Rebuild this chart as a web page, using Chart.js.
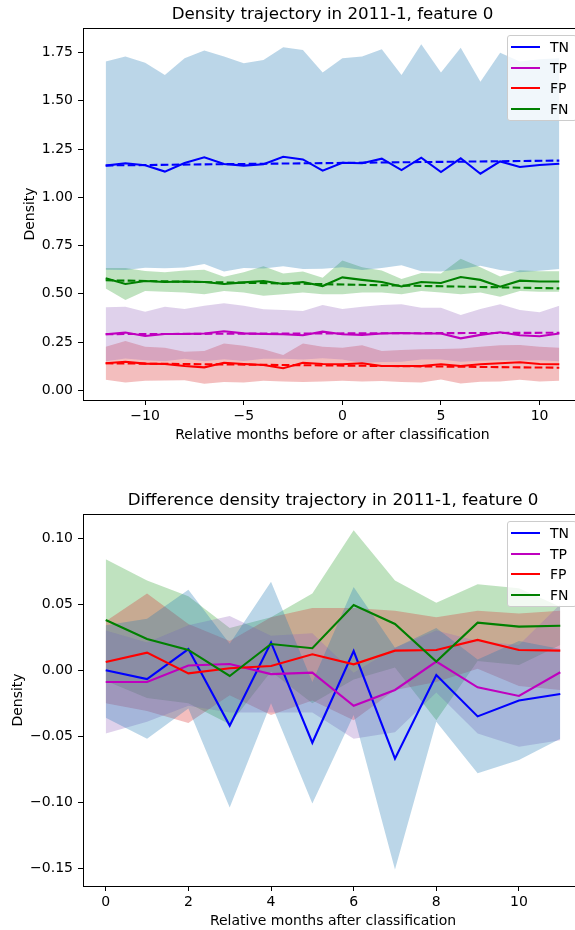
<!DOCTYPE html>
<html><head><meta charset="utf-8">
<script src="https://cdn.jsdelivr.net/npm/chart.js@4.4.0/dist/chart.umd.min.js"></script>
<style>
html,body{margin:0;padding:0;background:#fff;overflow:hidden;width:575px;height:930px;}
#wrap{position:relative;width:575px;height:930px;overflow:hidden;background:#fff;}
canvas{position:absolute;left:0;}
.legend{position:absolute;width:70px;height:86px;background:rgba(255,255,255,0.8);border:1px solid #cccccc;border-radius:3px;box-sizing:border-box;font-family:'DejaVu Sans',sans-serif;font-size:14px;color:#000;}
.item{position:absolute;left:0;width:70px;height:18px;}
.swatch{position:absolute;left:3px;top:8px;width:29px;height:2px;}
.lbl{position:absolute;left:42px;top:0;line-height:18px;white-space:nowrap;}
</style></head>
<body><div id="wrap">
<canvas id="c1" width="600" height="444" style="top:0"></canvas>
<canvas id="c2" width="600" height="444" style="top:486px"></canvas>
<div class="legend" id="lg1" style="left:507px;top:35px"></div>
<div class="legend" id="lg2" style="left:507px;top:521px"></div>
</div>
<script>
// ---------- data ----------
const seriesNames = ['TN', 'TP', 'FP', 'FN'];
const lineColors = ['#0000ff', '#bf00bf', '#ff0000', '#008000'];
const bandColors = ['rgba(31,119,180,0.3)', 'rgba(148,103,189,0.3)', 'rgba(214,39,40,0.3)', 'rgba(44,160,44,0.3)'];

// top chart: relative months before/after classification
const monthsRel = [-12,-11,-10,-9,-8,-7,-6,-5,-4,-3,-2,-1,0,1,2,3,4,5,6,7,8,9,10,11];
const tnMean  = [1.164,1.176,1.166,1.133,1.178,1.207,1.172,1.164,1.171,1.210,1.196,1.138,1.179,1.176,1.200,1.141,1.205,1.131,1.202,1.122,1.186,1.157,1.167,1.174];
const tnUpper = [1.703,1.729,1.697,1.634,1.720,1.760,1.729,1.694,1.711,1.777,1.763,1.646,1.720,1.729,1.767,1.634,1.793,1.646,1.775,1.599,1.749,1.703,1.715,1.720];
const tnLower = [0.625,0.623,0.635,0.632,0.636,0.654,0.615,0.634,0.631,0.643,0.629,0.630,0.638,0.623,0.633,0.648,0.617,0.616,0.629,0.645,0.623,0.611,0.619,0.628];
const tpMean  = [0.290,0.299,0.281,0.292,0.292,0.294,0.306,0.295,0.292,0.290,0.285,0.304,0.290,0.287,0.294,0.297,0.294,0.294,0.269,0.287,0.301,0.285,0.280,0.294];
const tpUpper = [0.430,0.433,0.407,0.433,0.421,0.438,0.451,0.438,0.420,0.416,0.411,0.442,0.421,0.433,0.442,0.446,0.428,0.428,0.390,0.421,0.446,0.416,0.404,0.438];
const tpLower = [0.150,0.165,0.155,0.151,0.163,0.150,0.161,0.152,0.164,0.164,0.159,0.166,0.159,0.141,0.146,0.148,0.160,0.160,0.148,0.153,0.156,0.154,0.156,0.150];
const fpMean  = [0.140,0.148,0.138,0.136,0.126,0.119,0.143,0.136,0.131,0.114,0.143,0.136,0.135,0.140,0.126,0.126,0.126,0.135,0.126,0.135,0.140,0.145,0.136,0.135];
const fpUpper = [0.226,0.255,0.226,0.221,0.200,0.204,0.243,0.231,0.212,0.183,0.243,0.226,0.221,0.234,0.204,0.209,0.212,0.214,0.217,0.226,0.234,0.235,0.226,0.221];
const fpLower = [0.054,0.041,0.050,0.051,0.052,0.034,0.043,0.041,0.050,0.045,0.043,0.046,0.049,0.046,0.048,0.043,0.040,0.056,0.035,0.044,0.046,0.055,0.046,0.049];
const fnMean  = [0.580,0.551,0.566,0.561,0.564,0.561,0.551,0.559,0.566,0.551,0.561,0.540,0.585,0.572,0.561,0.538,0.561,0.556,0.587,0.572,0.537,0.568,0.564,0.564];
const fnUpper = [0.634,0.634,0.618,0.611,0.621,0.625,0.588,0.611,0.642,0.605,0.615,0.583,0.673,0.637,0.621,0.577,0.608,0.605,0.681,0.637,0.589,0.622,0.617,0.617];
const fnLower = [0.528,0.468,0.514,0.511,0.507,0.497,0.514,0.507,0.490,0.497,0.507,0.497,0.497,0.507,0.507,0.497,0.514,0.507,0.497,0.507,0.485,0.514,0.511,0.511];
// dashed trend lines (endpoints)
const trendX  = [-12, 11];
const tnTrend = [1.165, 1.190];
const tpTrend = [0.291, 0.298];
const fpTrend = [0.140, 0.117];
const fnTrend = [0.570, 0.528];

// bottom chart: relative months after classification
const monthsAfter = [0,1,2,3,4,5,6,7,8,9,10,11];
const dTnMean  = [0.000,-0.0067,0.016,-0.042,0.021,-0.055,0.0145,-0.067,-0.0036,-0.035,-0.023,-0.018];
const dTnUpper = [0.034,0.039,0.061,0.020,0.067,-0.009,0.063,0.017,0.032,0.008,0.022,0.016];
const dTnLower = [-0.036,-0.052,-0.029,-0.104,-0.025,-0.101,-0.034,-0.151,-0.039,-0.078,-0.068,-0.052];
const dTpMean  = [-0.009,-0.009,0.0035,0.0047,-0.003,-0.0019,-0.027,-0.015,0.0065,-0.013,-0.0195,-0.0016];
const dTpUpper = [0.030,0.021,0.034,0.041,0.026,0.028,-0.002,0.017,0.030,0.022,0.019,0.050];
const dTpLower = [-0.048,-0.039,-0.027,-0.032,-0.032,-0.032,-0.052,-0.047,-0.017,-0.048,-0.058,-0.053];
const dFpMean  = [0.0062,0.0133,-0.0024,0.0014,0.0032,0.012,0.0044,0.0148,0.0153,0.0229,0.0153,0.0148];
const dFpUpper = [0.037,0.058,0.035,0.022,0.040,0.047,0.047,0.045,0.040,0.045,0.043,0.045];
const dFpLower = [-0.025,-0.031,-0.040,-0.019,-0.034,-0.023,-0.038,-0.015,-0.009,0.001,-0.012,-0.015];
const dFnMean  = [0.038,0.0236,0.0153,-0.0044,0.0198,0.0166,0.0494,0.035,0.0065,0.036,0.033,0.0337];
const dFnUpper = [0.084,0.068,0.056,0.032,0.040,0.058,0.106,0.068,0.051,0.065,0.062,0.048];
const dFnLower = [-0.008,-0.021,-0.025,-0.041,-0.001,-0.025,-0.007,0.002,-0.038,0.007,0.004,0.019];

// tick labels
const topXTicks = [-10,-5,0,5,10];
const topYTicks = [0,0.25,0.5,0.75,1.0,1.25,1.5,1.75];
const botXTicks = [0,2,4,6,8,10];
const botYTicks = [-0.15,-0.10,-0.05,0,0.05,0.10];

const topTitle = 'Density trajectory in 2011-1, feature 0';
const botTitle = 'Difference density trajectory in 2011-1, feature 0';
const topXLabel = 'Relative months before or after classification';
const botXLabel = 'Relative months after classification';
const yLabel = 'Density';

// ---------- helpers ----------
const FONT = "'DejaVu Sans', sans-serif";
const pts = (xs, ys) => ys.map((v, i) => ({x: xs[i], y: v}));
const minus = s => s.replace('-', '\u2212');
const LW = 2.1;

function makeDatasets(xs, means, uppers, lowers, trends) {
  const ds = [];
  for (let k = 0; k < 4; k++) {
    ds.push({label: seriesNames[k], data: pts(xs, means[k]), borderColor: lineColors[k], borderWidth: LW,
             fill: false, pointRadius: 0, order: 3 - k});
  }
  if (trends) {
    for (let k = 0; k < 4; k++) {
      ds.push({label: seriesNames[k] + ' trend', data: pts(trendX, trends[k]), borderColor: lineColors[k],
               borderWidth: LW, borderDash: [7.7, 3.3], fill: false, pointRadius: 0, order: 10 + 3 - k});
    }
  }
  for (let k = 0; k < 4; k++) {
    ds.push({label: seriesNames[k] + ' upper', data: pts(xs, uppers[k]), borderColor: 'rgba(0,0,0,0)', borderWidth: 0,
             backgroundColor: bandColors[k], fill: '+1', pointRadius: 0, order: 20});
    ds.push({label: seriesNames[k] + ' lower', data: pts(xs, lowers[k]), borderColor: 'rgba(0,0,0,0)', borderWidth: 0,
             fill: false, pointRadius: 0, order: 20});
  }
  return ds;
}

function buildChart(canvas, o) {
  const tickFont = {family: FONT, size: 14};
  return new Chart(canvas, {
    type: 'line',
    data: {datasets: o.datasets},
    options: {
      responsive: false, animation: false, devicePixelRatio: 1,
      layout: {padding: {left: 0, right: o.padRight, top: 0, bottom: 0}},
      plugins: {legend: {display: false}, tooltip: {enabled: false}, title: {display: false},
                filler: {drawTime: 'beforeDatasetsDraw', propagate: false}},
      elements: {point: {radius: 0, hitRadius: 0}, line: {tension: 0}},
      scales: {
        x: {type: 'linear', position: 'bottom', min: o.xMin, max: o.xMax,
            afterBuildTicks: s => { s.ticks = o.xTicks.map(v => ({value: v})); },
            afterFit: s => { s.height = 44; },
            ticks: {callback: v => minus(String(v)), color: '#000', font: tickFont, padding: 3, maxRotation: 0, autoSkip: false},
            grid: {drawOnChartArea: false, drawTicks: true, tickLength: 5, tickColor: '#000', tickWidth: 1, color: '#000'},
            border: {display: true, color: '#000', width: 1},
            title: {display: true, text: o.xLabel, color: '#000', font: {family: FONT, size: 14}, padding: {top: 0, bottom: 0}}},
        x2: {type: 'linear', axis: 'x', position: 'top', min: o.xMin, max: o.xMax,
             afterFit: s => { s.height = 28; },
             ticks: {display: false}, grid: {display: false, drawTicks: false},
             border: {display: true, color: '#000', width: 1},
             title: {display: true, text: o.title, color: '#000', font: {family: FONT, size: 16.7}, padding: {top: 5, bottom: 0}}},
        y: {type: 'linear', position: 'left', min: o.yMin, max: o.yMax,
            afterBuildTicks: s => { s.ticks = o.yTicks.map(v => ({value: v})); },
            afterFit: s => { s.width = 83; },
            ticks: {callback: v => minus(v.toFixed(2)), color: '#000', font: tickFont, padding: 5, autoSkip: false},
            grid: {drawOnChartArea: false, drawTicks: true, tickLength: 5, tickColor: '#000', tickWidth: 1, color: '#000'},
            border: {display: true, color: '#000', width: 1},
            title: {display: true, text: yLabel, color: '#000', font: {family: FONT, size: 14}, padding: {top: o.yTitlePad, bottom: 0}}}
      }
    }
  });
}

buildChart(document.getElementById('c1'), {
  datasets: makeDatasets(monthsRel, [tnMean, tpMean, fpMean, fnMean], [tnUpper, tpUpper, fpUpper, fnUpper],
                         [tnLower, tpLower, fpLower, fnLower], [tnTrend, tpTrend, fpTrend, fnTrend]),
  xMin: -13.15, xMax: 12.15, yMin: -0.0503, yMax: 1.877, xTicks: topXTicks, yTicks: topYTicks,
  padRight: 18, title: topTitle, xLabel: topXLabel, yTitlePad: 21.6
});
buildChart(document.getElementById('c2'), {
  datasets: makeDatasets(monthsAfter, [dTnMean, dTpMean, dFpMean, dFnMean], [dTnUpper, dTpUpper, dFpUpper, dFnUpper],
                         [dTnLower, dTpLower, dFpLower, dFnLower], null),
  xMin: -0.55, xMax: 11.55, yMin: -0.1635, yMax: 0.1183, xTicks: botXTicks, yTicks: botYTicks,
  padRight: 17, title: botTitle, xLabel: botXLabel, yTitlePad: 9.6
});

// legends (HTML, real text)
function buildLegend(id) {
  const el = document.getElementById(id);
  const tops = [2, 22.7, 43, 63.7];
  seriesNames.forEach((n, k) => {
    const it = document.createElement('div');
    it.className = 'item'; it.style.top = tops[k] + 'px';
    const sw = document.createElement('div'); sw.className = 'swatch'; sw.style.background = lineColors[k];
    const lb = document.createElement('div'); lb.className = 'lbl'; lb.textContent = n;
    it.appendChild(sw); it.appendChild(lb); el.appendChild(it);
  });
}
buildLegend('lg1'); buildLegend('lg2');
</script>
</body></html>
